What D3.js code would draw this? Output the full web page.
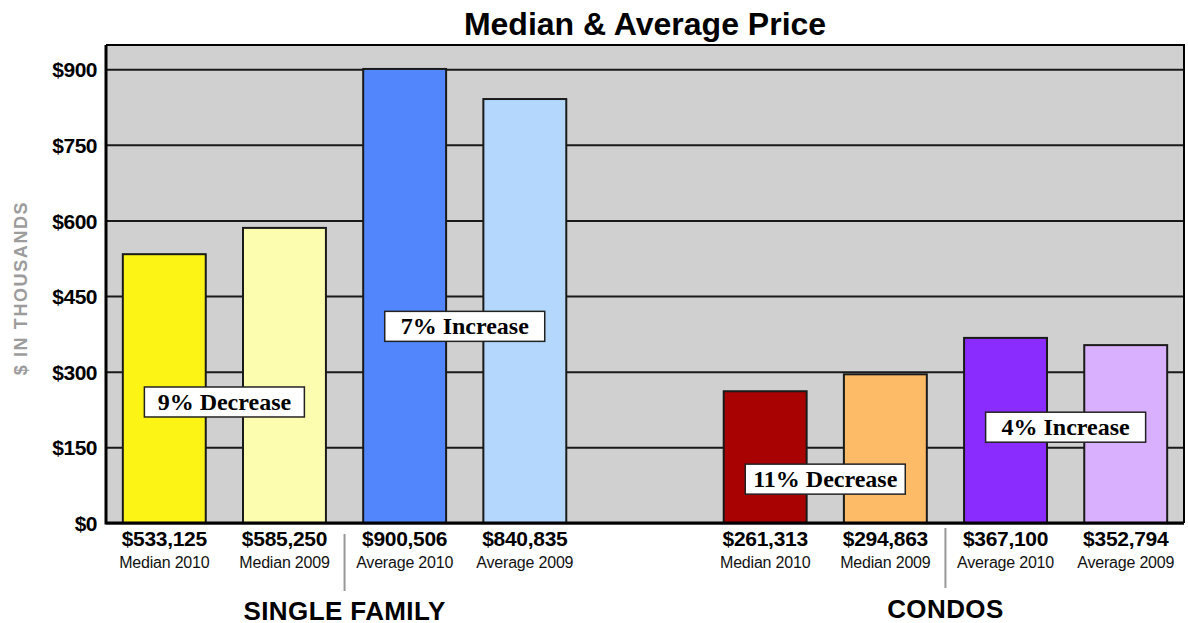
<!DOCTYPE html>
<html>
<head>
<meta charset="utf-8">
<script src="https://cdn.jsdelivr.net/npm/d3@7"></script>
<style>
  body { margin: 0; background: #fff; }
  svg { display: block; }
</style>
</head>
<body>
<script>
//chart data
const groups = ['SINGLE FAMILY', 'CONDOS']
const categories = ['Median 2010', 'Median 2009', 'Average 2010', 'Average 2009']
const singleFamily = [533125, 585250, 900506, 840835]
const condos = [261313, 294863, 367100, 352794]
const yTicks = [0, 150, 300, 450, 600, 750, 900]
const changeLabels = ['9% Decrease', '7% Increase', '11% Decrease', '4% Increase']

//colors for each bar
const sfColors = ['#fcf414', '#fdfdb0', '#5286fd', '#b3d7fd']
const condoColors = ['#a80202', '#fdbb67', '#8a2cfd', '#d9b0fd']

//where the change boxes sit (in $ thousands)
const changeLevels = [240, 390, 87, 190]

const width = 1188
const height = 623
const margin = { top: 45, bottom: 100, left: 106, right: 4 }
const innerWidth = width - margin.left - margin.right
const innerHeight = height - margin.top - margin.bottom

//build rows; a blank slot separates the two groups
const rows = []
singleFamily.forEach((v, i) => rows.push({ key: 'sf' + i, value: v, label: categories[i], color: sfColors[i] }))
rows.push({ key: 'gap', value: null })
condos.forEach((v, i) => rows.push({ key: 'c' + i, value: v, label: categories[i], color: condoColors[i] }))
const bars = rows.filter(d => d.value !== null)

const svg = d3.select('body').append('svg')
  .attr('width', width)
  .attr('height', height)

//title
svg.append('text')
  .text('Median & Average Price')
  .attr('x', margin.left + innerWidth / 2)
  .attr('y', 35)
  .attr('text-anchor', 'middle')
  .style('font-family', 'Liberation Sans, Arial, sans-serif')
  .style('font-weight', 'bold')
  .style('font-size', '32px')

//y axis title
svg.append('text')
  .text('$ IN THOUSANDS')
  .attr('transform', `translate(27,${margin.top + innerHeight / 2 + 4}) rotate(-90)`)
  .attr('text-anchor', 'middle')
  .style('font-family', 'Liberation Sans, Arial, sans-serif')
  .style('font-weight', 'bold')
  .style('font-size', '18px')
  .style('letter-spacing', '1.6px')
  .style('fill', '#9c9c9c')

const g = svg.append('g')
  .attr('transform', `translate(${margin.left},${margin.top})`)

//=================SCALES===================
const xScale = d3.scaleBand()
  .domain(rows.map(d => d.key))
  .range([0, innerWidth])
  .paddingInner(0.31)
  .paddingOuter(0.14)

const yScale = d3.scaleLinear()
  .domain([0, 948])
  .range([innerHeight, 0])

//background
g.append('rect')
  .attr('width', innerWidth)
  .attr('height', innerHeight)
  .attr('fill', '#d0d0d0')

//gridlines + tick labels via axis
const yAxis = d3.axisLeft(yScale)
  .tickValues(yTicks)
  .tickFormat(d => '$' + d)
  .tickSize(-innerWidth)
  .tickPadding(9)

const yAxisGroup = g.append('g').call(yAxis)
yAxisGroup.select('.domain').remove()
yAxisGroup.selectAll('line')
  .attr('stroke', '#1a1a1a')
  .attr('stroke-width', 2)
yAxisGroup.selectAll('text')
  .attr('dy', '0.36em')
  .style('font-family', 'Liberation Sans, Arial, sans-serif')
  .style('font-weight', 'bold')
  .style('font-size', '21px')
  .style('letter-spacing', '-0.5px')
  .style('fill', '#000')

//=================== BARS ==================
g.selectAll('rect.bar')
  .data(bars)
  .enter()
  .append('rect')
  .attr('class', 'bar')
  .attr('x', d => xScale(d.key))
  .attr('y', d => yScale(d.value / 1000))
  .attr('width', xScale.bandwidth())
  .attr('height', d => innerHeight - yScale(d.value / 1000))
  .attr('fill', d => d.color)
  .attr('stroke', '#1a1a1a')
  .attr('stroke-width', 2)

//frame: thin top/right, thick left/bottom
g.append('path')
  .attr('d', `M0,0H${innerWidth}V${innerHeight}`)
  .attr('fill', 'none')
  .attr('stroke', '#000')
  .attr('stroke-width', 2)
g.append('path')
  .attr('d', `M0,0V${innerHeight}H${innerWidth}`)
  .attr('fill', 'none')
  .attr('stroke', '#000')
  .attr('stroke-width', 3)

//=================== BAR LABELS ==================
const labels = g.selectAll('g.blabel')
  .data(bars)
  .enter()
  .append('g')
  .attr('class', 'blabel')
  .attr('transform', d => `translate(${xScale(d.key) + xScale.bandwidth() / 2},${innerHeight})`)

labels.append('text')
  .text(d => d3.format('$,')(d.value))
  .attr('y', 23)
  .attr('text-anchor', 'middle')
  .style('font-family', 'Liberation Sans, Arial, sans-serif')
  .style('font-weight', 'bold')
  .style('font-size', '21px')
  .style('letter-spacing', '-0.3px')

labels.append('text')
  .text(d => d.label)
  .attr('y', 45)
  .attr('text-anchor', 'middle')
  .style('font-family', 'Liberation Sans, Arial, sans-serif')
  .style('font-size', '16px')
  .style('letter-spacing', '-0.2px')
  .style('fill', '#111')

//=================== GROUP LABELS ==================
const sepSpans = [[11, 68], [5, 65]]
const groupLabelY = [97, 95]
groups.forEach((name, gi) => {
  const k1 = gi === 0 ? 'sf1' : 'c1'
  const k2 = gi === 0 ? 'sf2' : 'c2'
  const mid = (xScale(k1) + xScale.bandwidth() + xScale(k2)) / 2
  g.append('line')
    .attr('x1', mid)
    .attr('x2', mid)
    .attr('y1', innerHeight + sepSpans[gi][0])
    .attr('y2', innerHeight + sepSpans[gi][1])
    .attr('stroke', '#999')
    .attr('stroke-width', 2)
  g.append('text')
    .text(name)
    .attr('x', mid)
    .attr('y', innerHeight + groupLabelY[gi])
    .attr('text-anchor', 'middle')
    .style('font-family', 'Liberation Sans, Arial, sans-serif')
    .style('font-weight', 'bold')
    .style('font-size', '26px')
    .style('letter-spacing', '0.4px')
})

//=================== CHANGE BOXES ==================
const pairKeys = [['sf0', 'sf1'], ['sf2', 'sf3'], ['c0', 'c1'], ['c2', 'c3']]
changeLabels.forEach((txt, i) => {
  const cx = (xScale(pairKeys[i][0]) + xScale(pairKeys[i][1]) + xScale.bandwidth()) / 2
  const cy = yScale(changeLevels[i])
  const box = g.append('g').attr('transform', `translate(${cx},${cy})`)
  box.append('rect')
    .attr('x', -80)
    .attr('y', -15)
    .attr('width', 160)
    .attr('height', 30)
    .attr('fill', '#fff')
    .attr('stroke', '#222')
    .attr('stroke-width', 1.5)
  box.append('text')
    .text(txt)
    .attr('y', 8)
    .attr('text-anchor', 'middle')
    .style('font-family', 'Liberation Serif, Times New Roman, serif')
    .style('font-weight', 'bold')
    .style('font-size', '24px')
})
</script>
</body>
</html>
